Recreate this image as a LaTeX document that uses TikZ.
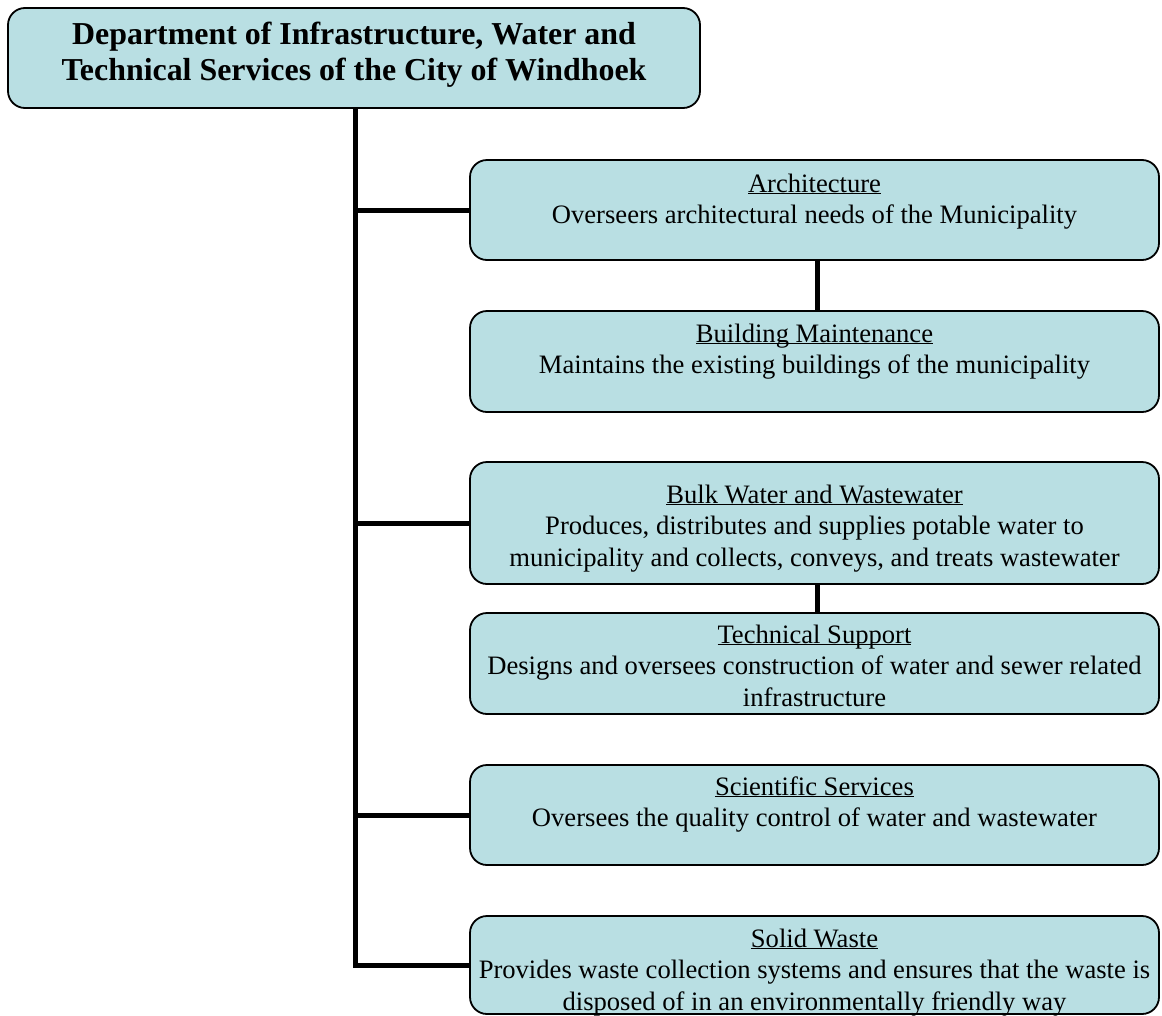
\documentclass[tikz,border=0pt]{standalone}
\usepackage{fontspec}
\setmainfont{Liberation Serif}
\definecolor{boxfill}{RGB}{185,223,227}
\newcommand\uln[1]{\setbox0\hbox{#1}\rlap{\rule[-2.4pt]{\wd0}{1.2pt}}\box0}
\newcommand\bodyfont{\fontsize{26.6pt}{31.5pt}\selectfont}
\newcommand\titlefont{\fontsize{31.9pt}{36pt}\selectfont\bfseries}
\newcommand\boxtext[4]{\parbox[c][#2pt][t]{#1pt}{\centering\rule{0pt}{#3pt}#4}}
\begin{document}
\begin{tikzpicture}[x=1pt,y=-1pt,
  orgbox/.style={draw=black, line width=1.8pt, rounded corners=17pt, fill=boxfill,
    inner sep=0pt, outer sep=0pt, anchor=north west},
  conn/.style={draw=black, line width=5pt, line join=miter}]
\useasboundingbox (0,0) rectangle (1162,1015);

\node[orgbox] (dept) at (8,8) {\boxtext{692}{100}{36}{\titlefont Department of Infrastructure, Water and\\Technical Services of the City of Windhoek}};

\node[orgbox] (arch) at (470,160) {\boxtext{689}{100}{32}{\bodyfont\uln{Architecture}\\Overseers architectural needs of the Municipality}};
\node[orgbox] (build) at (470,311) {\boxtext{689}{101}{31}{\bodyfont\uln{Building Maintenance}\\Maintains the existing buildings of the municipality}};
\node[orgbox] (bulk) at (470,462) {\boxtext{689}{122}{41}{\bodyfont\uln{Bulk Water and Wastewater}\\Produces, distributes and supplies potable water to\\municipality and collects, conveys, and treats wastewater}};
\node[orgbox] (tech) at (470,613) {\boxtext{689}{101}{30}{\bodyfont\uln{Technical Support}\\\mbox{Designs and oversees construction of water and sewer related}\\infrastructure}};
\node[orgbox] (sci) at (470,765) {\boxtext{689}{100}{30}{\bodyfont\uln{Scientific Services}\\Oversees the quality control of water and wastewater}};
\node[orgbox] (solid) at (470,916) {\boxtext{689}{98}{31}{\bodyfont\uln{Solid Waste}\\\mbox{Provides waste collection systems and ensures that the waste is}\\disposed of in an environmentally friendly way}};

\draw[conn] ([xshift=1.5pt]dept.south) |- (solid.west);
\draw[conn] ([xshift=1.5pt]dept.south |- arch.west) -- (arch.west);
\draw[conn] ([xshift=1.5pt]dept.south |- bulk.west) -- (bulk.west);
\draw[conn] ([xshift=1.5pt]dept.south |- sci.west) -- (sci.west);
\draw[conn] ([xshift=2.5pt]arch.south) -- ([xshift=2.5pt]build.north);
\draw[conn] ([xshift=2.5pt]bulk.south) -- ([xshift=2.5pt]tech.north);
\end{tikzpicture}
\end{document}
